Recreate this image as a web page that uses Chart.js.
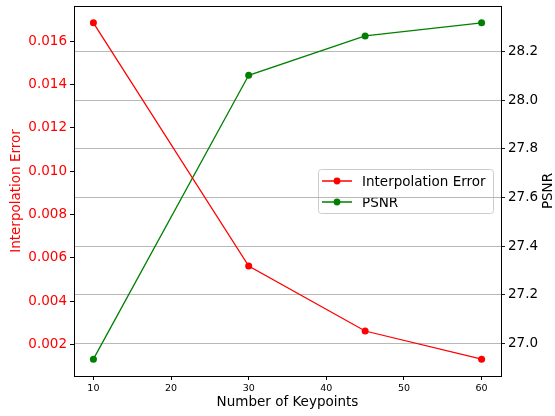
<!DOCTYPE html>
<html>
<head>
<meta charset="utf-8">
<script src="https://cdn.jsdelivr.net/npm/chart.js@4"></script>
<style>
html,body{margin:0;padding:0;background:#fff}
canvas{display:block}
</style>
</head>
<body>
<canvas id="myChart" width="555" height="416"></canvas>
<script>
// values
const keypoints=[10,30,45,60]
const interpError=[0.01685,0.00563,0.00263,0.00133]
const psnr=[26.934,28.103,28.265,28.319]
const xTicks=[10,20,30,40,50,60]
const errTicks=[0.002,0.004,0.006,0.008,0.010,0.012,0.014,0.016]
const psnrTicks=[27.0,27.2,27.4,27.6,27.8,28.0,28.2]

const FONT='DejaVu Sans'

// matplotlib style 5% margins
function pad(arr){
  const lo=Math.min(...arr),hi=Math.max(...arr),m=(hi-lo)*0.05
  return {min:lo-m,max:hi+m}
}
const xr=pad(keypoints),er=pad(interpError),pr=pad(psnr)

// legend inside the plot, drawn before the grid so the grid goes over it like the original
const boxLegend={
  id:'boxLegend',
  beforeDraw(chart){
    const ctx=chart.ctx
    const x=318,y=169,w=175,h=44
    ctx.save()
    ctx.fillStyle='rgba(255,255,255,0.8)'
    ctx.strokeStyle='#cccccc'
    ctx.lineWidth=1
    ctx.beginPath()
    ctx.roundRect(x+0.5,y+0.5,w,h,3)
    ctx.fill();ctx.stroke()
    chart.data.datasets.forEach((ds,i)=>{
      const ry=y+12+i*21
      ctx.strokeStyle=ds.borderColor
      ctx.lineWidth=1.5
      ctx.beginPath();ctx.moveTo(x+4,ry);ctx.lineTo(x+34,ry);ctx.stroke()
      ctx.fillStyle=ds.borderColor
      ctx.beginPath();ctx.arc(x+19,ry,3.4,0,Math.PI*2);ctx.fill()
      ctx.fillStyle='#000'
      ctx.font='13.5px "'+FONT+'"'
      ctx.textBaseline='middle'
      ctx.fillText(ds.label,x+44,ry+1)
    })
    ctx.restore()
  },
  afterDraw(chart){
    const a=chart.chartArea,ctx=chart.ctx
    ctx.save()
    // top spine
    ctx.strokeStyle='#000';ctx.lineWidth=1
    ctx.beginPath();ctx.moveTo(a.left,a.top+0.5);ctx.lineTo(a.right,a.top+0.5);ctx.stroke()
    // right axis title, reads bottom to top
    ctx.translate(548,(a.top+a.bottom)/2)
    ctx.rotate(-Math.PI/2)
    ctx.fillStyle='#000'
    ctx.font='13.5px "'+FONT+'"'
    ctx.textAlign='center';ctx.textBaseline='middle'
    ctx.fillText('PSNR',0,0)
    ctx.restore()
  }
}

function noPad(s){s.paddingTop=0;s.paddingBottom=0;s.paddingLeft=0;s.paddingRight=0}

const chart=new Chart(document.getElementById('myChart'),{
  type:'line',
  data:{
    datasets:[
      {
        label:'Interpolation Error',
        data:keypoints.map((k,i)=>({x:k,y:interpError[i]})),
        borderColor:'#ff0000',backgroundColor:'#ff0000',
        borderWidth:1.3,pointRadius:3.5,pointBorderWidth:0,pointHoverRadius:3.5,
        yAxisID:'yErr'
      },
      {
        label:'PSNR',
        data:keypoints.map((k,i)=>({x:k,y:psnr[i]})),
        borderColor:'#008000',backgroundColor:'#008000',
        borderWidth:1.3,pointRadius:3.5,pointBorderWidth:0,pointHoverRadius:3.5,
        yAxisID:'yPsnr'
      }
    ]
  },
  options:{
    responsive:false,
    animation:false,
    devicePixelRatio:1,
    layout:{padding:{top:6,left:0,right:0,bottom:0}},
    plugins:{legend:{display:false},tooltip:{enabled:false}},
    scales:{
      x:{
        type:'linear',position:'bottom',min:xr.min,max:xr.max,
        afterBuildTicks:s=>{s.ticks=xTicks.map(v=>({value:v}))},
        afterFit:s=>{s.height=40;noPad(s)},
        grid:{drawOnChartArea:false,tickLength:4,color:'#000',tickColor:'#000'},
        border:{display:true,color:'#000',width:1},
        ticks:{color:'#000',font:{family:FONT,size:9.5},padding:3,maxRotation:0},
        title:{display:true,text:'Number of Keypoints',color:'#000',font:{family:FONT,size:13.5},padding:{top:0,bottom:5.5}}
      },
      yErr:{
        type:'linear',position:'left',min:er.min,max:er.max,
        afterBuildTicks:s=>{s.ticks=errTicks.map(v=>({value:v}))},
        afterFit:s=>{s.width=74;noPad(s)},
        grid:{drawOnChartArea:false,tickLength:4,tickColor:'#000'},
        border:{display:true,color:'#000',width:1},
        ticks:{color:'#ff0000',font:{family:FONT,size:13.5},padding:3,callback:v=>v.toFixed(3)},
        title:{display:true,text:'Interpolation Error',color:'#ff0000',font:{family:FONT,size:13.5},padding:{top:8.5,bottom:0}}
      },
      yPsnr:{
        type:'linear',position:'right',min:pr.min,max:pr.max,
        afterBuildTicks:s=>{s.ticks=psnrTicks.map(v=>({value:v}))},
        afterFit:s=>{s.width=54;noPad(s)},
        grid:{drawOnChartArea:true,color:'#b0b0b0',lineWidth:0.9,tickLength:4,tickColor:'#000'},
        border:{display:true,color:'#000',width:1},
        ticks:{color:'#000',font:{family:FONT,size:13.5},padding:3,callback:v=>v.toFixed(1)}
      }
    }
  },
  plugins:[boxLegend]
})
</script>
</body>
</html>
